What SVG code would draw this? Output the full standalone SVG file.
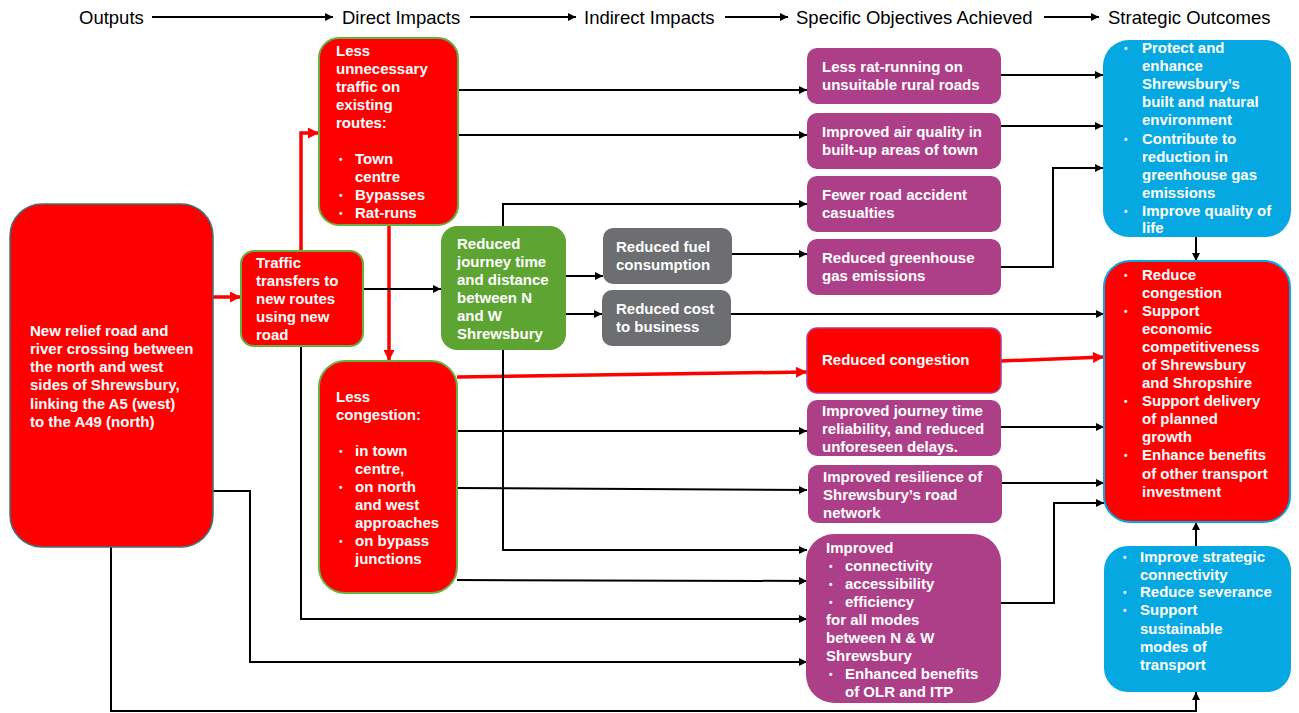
<svg xmlns="http://www.w3.org/2000/svg" width="1299" height="713" viewBox="0 0 1299 713">
  <defs>
    <marker id="ah" viewBox="0 0 10 10" markerWidth="9" markerHeight="8" refX="10" refY="5" markerUnits="userSpaceOnUse" orient="auto">
      <path d="M0,0 L10,5 L0,10 z" fill="#000"/>
    </marker>
    <marker id="ahr" viewBox="0 0 10 10" markerWidth="12" markerHeight="11" refX="10" refY="5" markerUnits="userSpaceOnUse" orient="auto">
      <path d="M0,0 L10,5 L0,10 z" fill="#FF0000"/>
    </marker>
    <style>
      .hd { font-family: "Liberation Sans", Arial, sans-serif; font-size: 18.5px; fill: #000; }
      .t { font-family: "Liberation Sans", Arial, sans-serif; font-size: 15px; font-weight: bold; fill: #fff; }
      .b { font-family: "Liberation Sans", Arial, sans-serif; font-size: 10px; font-weight: bold; fill: #fff; }
      .red { fill: #FF0000; }
      .pur { fill: #AD3F88; }
      .gry { fill: #6D6E71; }
      .grn { fill: #5EA433; }
      .cya { fill: #05A8E0; }
      .gs { stroke: #6AAE3F; stroke-width: 2; }
      .k { fill: none; stroke: #000; stroke-width: 2; marker-end: url(#ah); }
      .kn { fill: none; stroke: #000; stroke-width: 2; }
      .r { fill: none; stroke: #FF0000; stroke-width: 3.5; marker-end: url(#ahr); }
    </style>
  </defs>

  <!-- column headings -->
  <g id="headings">
    <text class="hd" x="79" y="24">Outputs</text>
    <text class="hd" x="342" y="24">Direct Impacts</text>
    <text class="hd" x="584" y="24">Indirect Impacts</text>
    <text class="hd" x="796" y="24">Specific Objectives Achieved</text>
    <text class="hd" x="1108" y="24">Strategic Outcomes</text>
  </g>

  <!-- connectors -->
  <g id="connectors">
    <line class="k" x1="152" y1="17" x2="333" y2="17"/>
    <line class="k" x1="470" y1="17" x2="576" y2="17"/>
    <line class="k" x1="725" y1="17" x2="788" y2="17"/>
    <line class="k" x1="1044" y1="17" x2="1099" y2="17"/>

    <!-- red main chain -->
    <line class="r" x1="213" y1="297" x2="241" y2="297"/>
    <polyline class="r" points="301,251 301,133 319,133"/>
    <line class="r" x1="389" y1="225" x2="389" y2="361"/>
    <line class="r" x1="457" y1="377" x2="807" y2="372"/>
    <line class="r" x1="1001" y1="361" x2="1104" y2="357"/>

    <!-- direct impacts to objectives -->
    <line class="k" x1="458" y1="90" x2="807" y2="90"/>
    <line class="k" x1="458" y1="135" x2="807" y2="135"/>
    <line class="k" x1="363" y1="289" x2="441" y2="289"/>
    <polyline class="k" points="503,226 503,204 807,204"/>
    <line class="k" x1="566" y1="276" x2="603" y2="276"/>
    <line class="k" x1="566" y1="314" x2="602" y2="314"/>
    <line class="k" x1="732" y1="254" x2="807" y2="254"/>
    <line class="k" x1="731" y1="314" x2="1104" y2="314"/>
    <line class="k" x1="457" y1="431" x2="807" y2="431"/>
    <line class="k" x1="457" y1="488" x2="807" y2="490"/>
    <polyline class="k" points="503,350 503,550 807,550"/>
    <line class="k" x1="457" y1="580" x2="807" y2="581"/>
    <polyline class="k" points="301,346 301,619 807,619"/>
    <polyline class="k" points="213,491 250,491 250,662 807,662"/>
    <polyline class="k" points="111,547 111,711 1196,711 1196,692"/>

    <!-- objectives to outcomes -->
    <line class="k" x1="1001" y1="75" x2="1103" y2="75"/>
    <line class="k" x1="1001" y1="126" x2="1103" y2="126"/>
    <polyline class="k" points="1001,267 1053,267 1053,168 1103,168"/>
    <line class="k" x1="1196" y1="237" x2="1196" y2="261"/>
    <line class="k" x1="1001" y1="427" x2="1104" y2="427"/>
    <line class="k" x1="1001" y1="483" x2="1104" y2="483"/>
    <polyline class="k" points="1001,603 1054,603 1054,503 1104,503"/>
    <line class="k" x1="1196" y1="546" x2="1196" y2="522"/>
  </g>

  <!-- outputs -->
  <g id="relief-road">
    <rect class="red" x="10" y="204" width="203" height="343" rx="32" stroke="#41717A" stroke-width="1.5"/>
    <text class="t" x="30" y="336">New relief road and</text>
    <text class="t" x="30" y="354">river crossing between</text>
    <text class="t" x="30" y="372">the north and west</text>
    <text class="t" x="30" y="390">sides of Shrewsbury,</text>
    <text class="t" x="30" y="409">linking the A5 (west)</text>
    <text class="t" x="30" y="427">to the A49 (north)</text>
  </g>

  <!-- direct impacts -->
  <g id="traffic-transfers">
    <rect class="red gs" x="241" y="251" width="122" height="95" rx="13"/>
    <text class="t" x="256" y="268">Traffic</text>
    <text class="t" x="256" y="286">transfers to</text>
    <text class="t" x="256" y="304">new routes</text>
    <text class="t" x="256" y="322">using new</text>
    <text class="t" x="256" y="340">road</text>
  </g>

  <g id="less-traffic">
    <rect class="red gs" x="319" y="38" width="139" height="187" rx="20"/>
    <text class="t" x="336" y="56">Less</text>
    <text class="t" x="336" y="74">unnecessary</text>
    <text class="t" x="336" y="92">traffic on</text>
    <text class="t" x="336" y="110">existing</text>
    <text class="t" x="336" y="128">routes:</text>
    <text class="b" x="339" y="163">•</text>
    <text class="t" x="355" y="164">Town</text>
    <text class="t" x="355" y="182">centre</text>
    <text class="b" x="339" y="199">•</text>
    <text class="t" x="355" y="200">Bypasses</text>
    <text class="b" x="339" y="217">•</text>
    <text class="t" x="355" y="218">Rat-runs</text>
  </g>

  <g id="less-congestion">
    <rect class="red gs" x="319" y="361" width="138" height="232" rx="26"/>
    <text class="t" x="336" y="402">Less</text>
    <text class="t" x="336" y="420">congestion:</text>
    <text class="b" x="339" y="455">•</text>
    <text class="t" x="355" y="456">in town</text>
    <text class="t" x="355" y="474">centre,</text>
    <text class="b" x="339" y="491">•</text>
    <text class="t" x="355" y="492">on north</text>
    <text class="t" x="355" y="510">and west</text>
    <text class="t" x="355" y="528">approaches</text>
    <text class="b" x="339" y="545">•</text>
    <text class="t" x="355" y="546">on bypass</text>
    <text class="t" x="355" y="564">junctions</text>
  </g>

  <g id="journey-time">
    <rect class="grn" x="441" y="226" width="125" height="124" rx="16"/>
    <text class="t" x="457" y="249">Reduced</text>
    <text class="t" x="457" y="267">journey time</text>
    <text class="t" x="457" y="285">and distance</text>
    <text class="t" x="457" y="303">between N</text>
    <text class="t" x="457" y="321">and W</text>
    <text class="t" x="457" y="339">Shrewsbury</text>
  </g>

  <!-- indirect impacts -->
  <g id="fuel">
    <rect class="gry" x="603" y="228" width="129" height="56" rx="10"/>
    <text class="t" x="616" y="252">Reduced fuel</text>
    <text class="t" x="616" y="270">consumption</text>
  </g>

  <g id="business-cost">
    <rect class="gry" x="602" y="290" width="129" height="56" rx="10"/>
    <text class="t" x="616" y="314">Reduced cost</text>
    <text class="t" x="616" y="332">to business</text>
  </g>

  <!-- specific objectives -->
  <g id="rat-running">
    <rect class="pur" x="807" y="48" width="194" height="56" rx="10"/>
    <text class="t" x="822" y="72">Less rat-running on</text>
    <text class="t" x="822" y="90">unsuitable rural roads</text>
  </g>

  <g id="air-quality">
    <rect class="pur" x="807" y="113" width="194" height="56" rx="10"/>
    <text class="t" x="822" y="137">Improved air quality in</text>
    <text class="t" x="822" y="155">built-up areas of town</text>
  </g>

  <g id="accidents">
    <rect class="pur" x="807" y="176" width="194" height="56" rx="10"/>
    <text class="t" x="822" y="200">Fewer road accident</text>
    <text class="t" x="822" y="218">casualties</text>
  </g>

  <g id="greenhouse">
    <rect class="pur" x="807" y="239" width="194" height="56" rx="10"/>
    <text class="t" x="822" y="263">Reduced greenhouse</text>
    <text class="t" x="822" y="281">gas emissions</text>
  </g>

  <g id="reduced-congestion">
    <rect class="red" x="807" y="328" width="194" height="65" rx="10" stroke="#AD3F88" stroke-width="1.5"/>
    <text class="t" x="822" y="365">Reduced congestion</text>
  </g>

  <g id="reliability">
    <rect class="pur" x="807" y="400" width="194" height="56" rx="10"/>
    <text class="t" x="822" y="416">Improved journey time</text>
    <text class="t" x="822" y="434">reliability, and reduced</text>
    <text class="t" x="822" y="452">unforeseen delays.</text>
  </g>

  <g id="resilience">
    <rect class="pur" x="808" y="465" width="194" height="58" rx="10"/>
    <text class="t" x="823" y="482">Improved resilience of</text>
    <text class="t" x="823" y="500">Shrewsbury’s road</text>
    <text class="t" x="823" y="518">network</text>
  </g>

  <g id="connectivity">
    <rect class="pur" x="806" y="534" width="195" height="169" rx="28"/>
    <text class="t" x="826" y="553">Improved</text>
    <text class="b" x="829" y="570">•</text>
    <text class="t" x="845" y="571">connectivity</text>
    <text class="b" x="829" y="588">•</text>
    <text class="t" x="845" y="589">accessibility</text>
    <text class="b" x="829" y="606">•</text>
    <text class="t" x="845" y="607">efficiency</text>
    <text class="t" x="826" y="625">for all modes</text>
    <text class="t" x="826" y="643">between N &amp; W</text>
    <text class="t" x="826" y="661">Shrewsbury</text>
    <text class="b" x="829" y="678">•</text>
    <text class="t" x="845" y="679">Enhanced benefits</text>
    <text class="t" x="845" y="697">of OLR and ITP</text>
  </g>

  <!-- strategic outcomes -->
  <g id="environment">
    <rect class="cya" x="1103" y="40" width="188" height="197" rx="26"/>
    <text class="b" x="1124" y="52">•</text>
    <text class="t" x="1142" y="53">Protect and</text>
    <text class="t" x="1142" y="71">enhance</text>
    <text class="t" x="1142" y="89">Shrewsbury’s</text>
    <text class="t" x="1142" y="107">built and natural</text>
    <text class="t" x="1142" y="125">environment</text>
    <text class="b" x="1124" y="143">•</text>
    <text class="t" x="1142" y="144">Contribute to</text>
    <text class="t" x="1142" y="162">reduction in</text>
    <text class="t" x="1142" y="180">greenhouse gas</text>
    <text class="t" x="1142" y="198">emissions</text>
    <text class="b" x="1124" y="215">•</text>
    <text class="t" x="1142" y="216">Improve quality of</text>
    <text class="t" x="1142" y="233">life</text>
  </g>

  <g id="economy">
    <rect class="red" x="1104" y="261" width="186" height="261" rx="26" stroke="#05A8E0" stroke-width="2"/>
    <text class="b" x="1124" y="279">•</text>
    <text class="t" x="1142" y="280">Reduce</text>
    <text class="t" x="1142" y="298">congestion</text>
    <text class="b" x="1124" y="315">•</text>
    <text class="t" x="1142" y="316">Support</text>
    <text class="t" x="1142" y="334">economic</text>
    <text class="t" x="1142" y="352">competitiveness</text>
    <text class="t" x="1142" y="370">of Shrewsbury</text>
    <text class="t" x="1142" y="388">and Shropshire</text>
    <text class="b" x="1124" y="405">•</text>
    <text class="t" x="1142" y="406">Support delivery</text>
    <text class="t" x="1142" y="424">of planned</text>
    <text class="t" x="1142" y="442">growth</text>
    <text class="b" x="1124" y="459">•</text>
    <text class="t" x="1142" y="460">Enhance benefits</text>
    <text class="t" x="1142" y="479">of other transport</text>
    <text class="t" x="1142" y="497">investment</text>
  </g>

  <g id="strategic-connectivity">
    <rect class="cya" x="1104" y="546" width="187" height="146" rx="24"/>
    <text class="b" x="1123" y="561">•</text>
    <text class="t" x="1140" y="562">Improve strategic</text>
    <text class="t" x="1140" y="580">connectivity</text>
    <text class="b" x="1123" y="596">•</text>
    <text class="t" x="1140" y="597">Reduce severance</text>
    <text class="b" x="1123" y="614">•</text>
    <text class="t" x="1140" y="615">Support</text>
    <text class="t" x="1140" y="634">sustainable</text>
    <text class="t" x="1140" y="652">modes of</text>
    <text class="t" x="1140" y="670">transport</text>
  </g>
</svg>
